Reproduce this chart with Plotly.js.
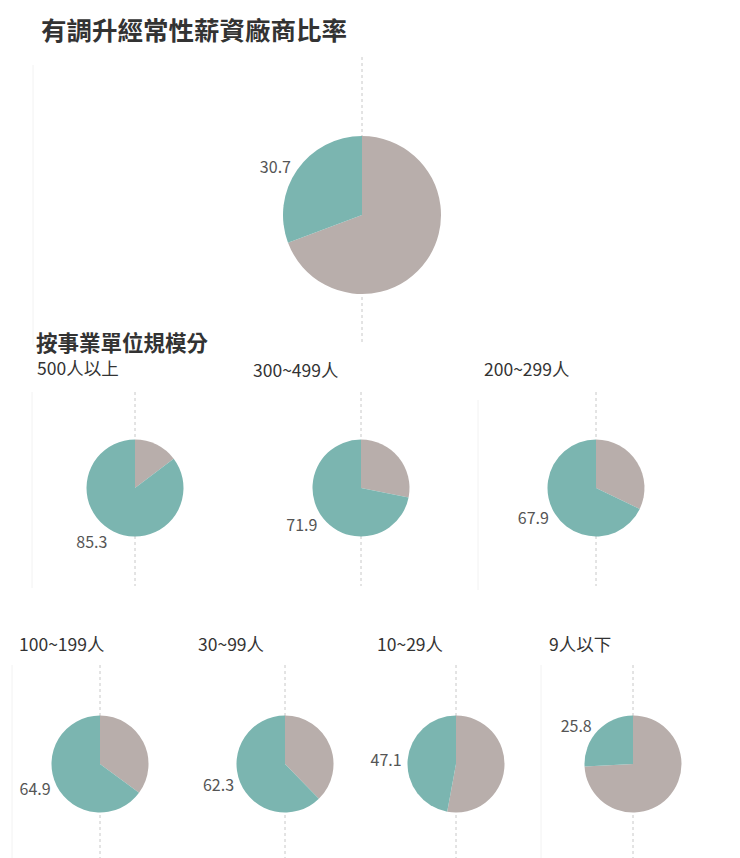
<!DOCTYPE html>
<html>
<head>
<meta charset="utf-8">
<script src="https://cdn.plot.ly/plotly-3.0.1.min.js"></script>
<style>
  body { margin: 0; background: #fff; }
  #chart { width: 740px; height: 858px; }
</style>
</head>
<body>
<div id="chart"></div>
<script>
const groups = ["全體", "500人以上", "300~499人", "200~299人", "100~199人", "30~99人", "10~29人", "9人以下"];
const raised = [30.7, 85.3, 71.9, 67.9, 64.9, 62.3, 47.1, 25.8];

const TEAL = "#7bb5b0";
const GREY = "#b8aeab";
const FONT = "Noto Sans CJK TC, Noto Sans, sans-serif";
const W = 740, H = 858;

// pixel layout of each pie: centre x, centre y, radius, dotted line top/bottom, label x/y
const pos = [
  { cx: 362, cy: 215, r: 79, top: 57, bot: 345, lx: null, ly: null },
  { cx: 135, cy: 488, r: 48.5, top: 392, bot: 586, lx: 35, ly: 367 },
  { cx: 361, cy: 488, r: 48.5, top: 392, bot: 586, lx: 251, ly: 370 },
  { cx: 596, cy: 488, r: 48.5, top: 392, bot: 586, lx: 482, ly: 368 },
  { cx: 100, cy: 764, r: 48.5, top: 665, bot: 858, lx: 17, ly: 643 },
  { cx: 285, cy: 764, r: 48.5, top: 665, bot: 858, lx: 196, ly: 643 },
  { cx: 456, cy: 764, r: 48.5, top: 665, bot: 858, lx: 375, ly: 643 },
  { cx: 633, cy: 764, r: 48.5, top: 665, bot: 858, lx: 547, ly: 643 },
];

const px = (x) => x / W;
const py = (y) => 1 - y / H;

// grey (not raised) first, clockwise from 12 o'clock, so the teal share ends at 12 on the left
const traces = groups.map((g, i) => {
  const p = pos[i];
  return {
    type: "pie",
    name: g,
    labels: ["未調升", "有調升"],
    values: [+(100 - raised[i]).toFixed(1), raised[i]],
    text: ["", raised[i].toFixed(1)],
    textinfo: "text",
    textposition: "outside",
    textfont: { size: 16, color: "#555", family: FONT },
    marker: { colors: [GREY, TEAL] },
    sort: false,
    direction: "clockwise",
    rotation: 0,
    hoverinfo: "none",
    showlegend: false,
    domain: {
      x: [px(p.cx - p.r), px(p.cx + p.r)],
      y: [py(p.cy + p.r), py(p.cy - p.r)],
    },
  };
});

const shapes = pos.map((p) => ({
  type: "line",
  xref: "paper", yref: "paper",
  x0: px(p.cx), x1: px(p.cx),
  y0: py(p.top), y1: py(p.bot),
  line: { color: "#c8c8c8", width: 1, dash: "dot" },
  layer: "below",
}));

// faint panel borders
[[33, 65, 345], [32, 392, 588], [478, 400, 590], [12, 665, 858], [541, 665, 858]].forEach(([x, a, b]) => {
  shapes.push({
    type: "line", xref: "paper", yref: "paper",
    x0: px(x), x1: px(x), y0: py(a), y1: py(b),
    line: { color: "#f2f2f2", width: 1 }, layer: "below",
  });
});

const annotations = [
  {
    text: "<b>有調升經常性薪資廠商比率</b>",
    x: px(39), y: py(28), xanchor: "left", yanchor: "middle",
    font: { size: 25.5, color: "#333", family: FONT },
  },
  {
    text: "<b>按事業單位規模分</b>",
    x: px(34), y: py(342), xanchor: "left", yanchor: "middle",
    font: { size: 21.5, color: "#333", family: FONT },
  },
];
groups.forEach((g, i) => {
  const p = pos[i];
  if (p.lx === null) return;
  annotations.push({
    text: g,
    x: px(p.lx), y: py(p.ly), xanchor: "left", yanchor: "middle",
    font: { size: 17.5, color: "#333", family: FONT },
  });
});
annotations.forEach((a) => { a.xref = "paper"; a.yref = "paper"; a.showarrow = false; });

Plotly.newPlot("chart", traces, {
  width: W,
  height: H,
  margin: { t: 0, l: 0, r: 0, b: 0 },
  paper_bgcolor: "#fff",
  plot_bgcolor: "#fff",
  font: { family: FONT },
  shapes: shapes,
  annotations: annotations,
}, { displayModeBar: false, staticPlot: true });
</script>
</body>
</html>
